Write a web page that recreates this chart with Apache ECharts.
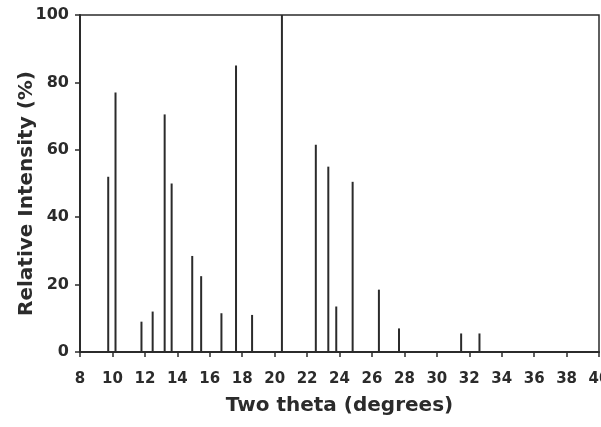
<!DOCTYPE html>
<html>
<head>
<meta charset="utf-8">
<script src="https://cdn.jsdelivr.net/npm/echarts@6/dist/echarts.min.js"></script>
<style>
	html, body { margin: 0; padding: 0; background: #fff; }
	#chart { width: 601px; height: 427px; }
</style>
</head>
<body>
<div id="chart"></div>
<script>
// peak positions (two theta, degrees)
var twoTheta = [9.74, 10.19, 11.79, 12.48, 13.22, 13.65, 14.92, 15.47, 16.72, 17.62,
		18.61, 20.45, 22.54, 23.31, 23.8, 24.81, 26.43, 27.67, 31.5, 32.63];
// relative intensity of each peak (%)
var intensity = [52, 77, 9, 12, 70.5, 50, 28.5, 22.5, 11.5, 85,
		11, 100, 61.5, 55, 13.5, 50.5, 18.5, 7, 5.5, 5.5];
// axis ranges and tick steps
var xRange = [8, 40];
var xStep = 2;
var yRange = [0, 100];
var yStep = 20;

(function() {
	var ink = '#2b2b2b';
	var font = 'DejaVu Sans';
	var myChart = echarts.init(document.getElementById('chart'));
	var option = generateStaticPart();
	// pair each angle with its intensity
	option.series = [ {
		type : 'bar',
		barWidth : 2,
		itemStyle : { color : ink },
		data : twoTheta.map(function(item, index) {
			return [ item, intensity[index] ];
		})
	} ];
	myChart.setOption(option);

	/**
	 * axes, frame and fonts
	 */
	function generateStaticPart() {
		return {
			animation : false,
			grid : {
				left : 80,
				right : 2,
				top : 15,
				bottom : 75,
				outerBoundsMode : 'none',
				containLabel : false,
				show : true,
				borderColor : ink,
				borderWidth : 1.5
			},
			xAxis : {
				type : 'value',
				min : xRange[0],
				max : xRange[1],
				interval : xStep,
				name : 'Two theta (degrees)',
				nameLocation : 'middle',
				nameGap : 44,
				nameMoveOverlap : false,
				nameTextStyle : {
					color : ink,
					fontFamily : font,
					fontWeight : 'bold',
					fontSize : 20
				},
				axisLine : { lineStyle : { color : ink, width : 2 } },
				axisTick : { length : 5, lineStyle : { color : ink, width : 1.5 } },
				axisLabel : {
					margin : 20,
					color : ink,
					fontFamily : font,
					fontWeight : 'bold',
					fontSize : 15
				},
				splitLine : { show : false }
			},
			yAxis : {
				type : 'value',
				min : yRange[0],
				max : yRange[1],
				interval : yStep,
				name : 'Relative Intensity (%)',
				nameLocation : 'middle',
				nameGap : 43,
				nameMoveOverlap : false,
				nameTextStyle : {
					color : ink,
					fontFamily : font,
					fontWeight : 'bold',
					fontSize : 20,
					padding : [ 0, 20, 0, 0 ]
				},
				axisLine : { show : true, lineStyle : { color : ink, width : 2 } },
				axisTick : { show : true, length : 5, lineStyle : { color : ink, width : 1.5 } },
				axisLabel : {
					margin : 11,
					color : ink,
					fontFamily : font,
					fontWeight : 'bold',
					fontSize : 16
				},
				splitLine : { show : false }
			}
		};
	}
})();
</script>
</body>
</html>
